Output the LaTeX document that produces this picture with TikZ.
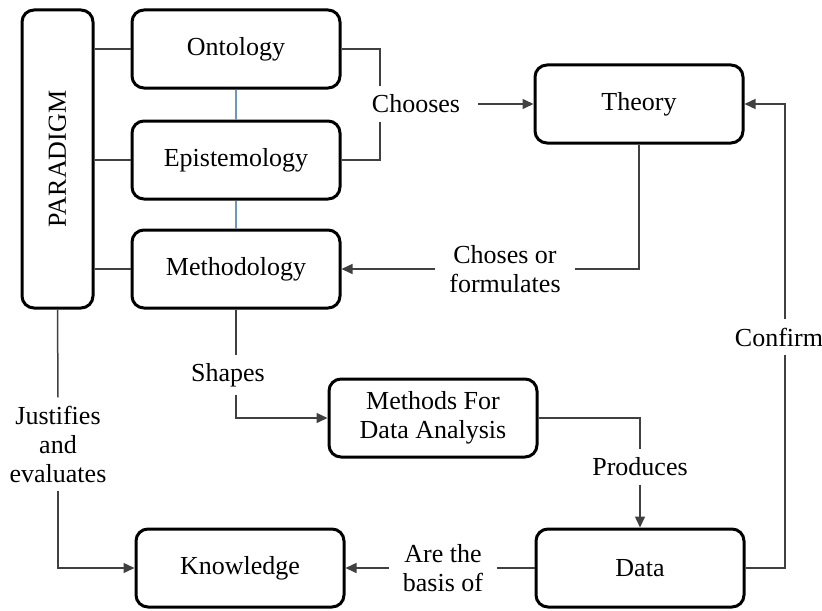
\documentclass[tikz,border=0pt]{standalone}
\usepackage{fontspec}
\setmainfont{Liberation Serif}
\usetikzlibrary{arrows.meta}
\colorlet{linegray}{black!75}
\definecolor{steelline}{RGB}{110,150,190}

\begin{document}
\begin{tikzpicture}[x=0.5pt, y=-0.5pt,
  box/.style={rectangle, draw, line width=1.5pt, rounded corners=6pt, align=center, minimum width=104pt, minimum height=39pt, font=\fontsize{13}{14.5}\selectfont},
  tag/.style={align=center, inner xsep=7pt, inner ysep=4pt, font=\fontsize{13}{14.5}\selectfont},
  link/.style={draw=linegray, line width=0.75pt},
  arrow/.style={link, -{Triangle[length=5.5pt, width=5pt]}},
  blueline/.style={draw=steelline, line width=0.6pt}]

\useasboundingbox (0,0) rectangle (822,610);

% BOXES

\node [box, minimum width=35.5pt, minimum height=149pt] (paradigm) at (57.5,159) {\rotatebox{90}{PARADIGM}};

\node [box] (ontology) at (236,49) {Ontology};
\node [box] (epistemology) at (236,160) {Epistemology};
\node [box] (methodology) at (236,269) {Methodology};

\node [box] (theory) at (639,104) {Theory};

\node [box] (methods) at (433,418) {Methods For\\Data Analysis};

\node [box] (knowledge) at (240,568) {Knowledge};
\node [box] (data) at (640,568) {Data};

% LABELS

\node [tag] (chooses) at (416,104) {Chooses};
\node [tag] (choses) at (505,269) {Choses or\\formulates};
\node [tag] (shapes) at (228,375) {Shapes};
\node [tag] (produces) at (640,467) {Produces};
\node [tag] (basis) at (443,568) {Are the\\basis of};
\node [tag] (justifies) at (58,444) {Justifies\\and\\evaluates};
\node [tag] (confirm) at (779,337) {Confirm};

% CONNECTORS

\draw [link] (ontology.west) -- (ontology.west -| paradigm.east);
\draw [link] (epistemology.west) -- (epistemology.west -| paradigm.east);
\draw [link] (methodology.west) -- (methodology.west -| paradigm.east);

\draw [blueline] (ontology.south) -- (epistemology.north);
\draw [blueline] (epistemology.south) -- (methodology.north);

\draw [link] (ontology.east) -| ([xshift=-18pt]chooses.north);
\draw [link] (epistemology.east) -| ([xshift=-18pt]chooses.south);
\draw [arrow] ([xshift=2pt]chooses.east) -- (theory.west);

\draw [link] (theory.south) |- (choses.east);
\draw [arrow] (choses.west) -- (methodology.east);

\draw [link] (methodology.south) -- (methodology.south |- shapes.north);
\draw [arrow] (methodology.south |- shapes.south) |- (methods.west);

\draw [link] (methods.east) -| (produces.north);
\draw [arrow] (produces.south) -- (data.north);

\draw [link] (data.west) -- (basis.east);
\draw [arrow] (basis.west) -- (knowledge.east);

\draw [link] (paradigm.south) -- (justifies.north);
\draw [arrow] (justifies.south) |- (knowledge.west);

\draw [link] (data.east) -| ([xshift=3pt]confirm.south);
\draw [arrow] ([xshift=3pt]confirm.north) |- (theory.east);

\end{tikzpicture}
\end{document}
